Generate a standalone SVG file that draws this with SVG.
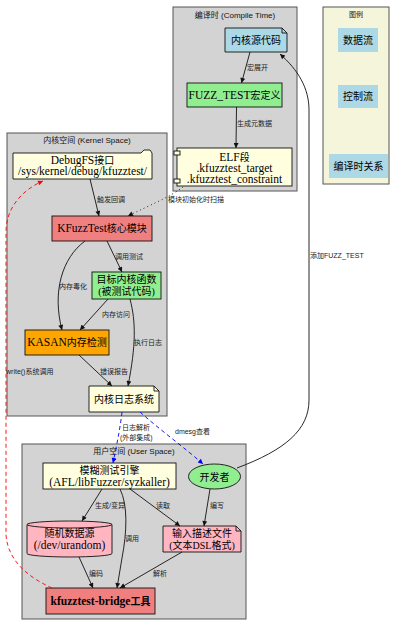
<svg xmlns="http://www.w3.org/2000/svg" width="402" height="627" viewBox="0 0 402 627">
<style>
.bg{fill:#ffffff}
.cl{fill:#d3d3d3;stroke:#555;stroke-width:1}
.lg{fill:#f5f5dc;stroke:#555;stroke-width:1}
.ct{font-family:"Liberation Sans","Noto Sans CJK SC",sans-serif;font-size:8px;fill:#111;text-anchor:middle}
.nd{stroke:#111;stroke-width:0.9}
.nt{font-family:"Liberation Serif","Noto Sans CJK SC",serif;font-size:11.5px;fill:#000;text-anchor:middle}
.c{font-size:10px}
.lt{font-family:"Liberation Sans","Noto Sans CJK SC",sans-serif;font-size:10px;fill:#000;text-anchor:middle}
.el{font-family:"Liberation Sans","Noto Sans CJK SC",sans-serif;font-size:7px;fill:#222}
.e{fill:none;stroke:#111;stroke-width:0.9}
.eb{fill:none;stroke:#0000ff;stroke-width:0.9;stroke-dasharray:4,3}
.er{fill:none;stroke:#ff0000;stroke-width:0.9;stroke-dasharray:4,3}
.ed{fill:none;stroke:#111;stroke-width:0.9;stroke-dasharray:1,3}
.ly{fill:#ffffe0}.lc{fill:#f08080}.gn{fill:#90ee90}.or{fill:#ffa500}.lb{fill:#add8e6}.pk{fill:#ffb6c1}
</style>
<defs>
<marker id="ak" viewBox="0 0 10 10" refX="10" refY="5" markerUnits="userSpaceOnUse" markerWidth="7" markerHeight="5" orient="auto"><path d="M0,0 L10,5 L0,10 Z" fill="#111"/></marker>
<marker id="ab" viewBox="0 0 10 10" refX="10" refY="5" markerUnits="userSpaceOnUse" markerWidth="7" markerHeight="5" orient="auto"><path d="M0,0 L10,5 L0,10 Z" fill="#0000ff"/></marker>
<marker id="ar" viewBox="0 0 10 10" refX="10" refY="5" markerUnits="userSpaceOnUse" markerWidth="7" markerHeight="5" orient="auto"><path d="M0,0 L10,5 L0,10 Z" fill="#ff0000"/></marker>
</defs>
<rect class="bg" x="0" y="0" width="402" height="627"/>

<g id="cluster_compile">
<rect class="cl" x="173" y="7" width="124" height="184"/>
<text class="ct" x="235" y="18">编译时 (Compile Time)</text>
</g>
<g id="cluster_legend">
<rect class="lg" x="323" y="7" width="66" height="177"/>
<text class="ct" x="356" y="17" style="font-size:7px">图例</text>
</g>
<g id="cluster_kernel">
<rect class="cl" x="7" y="133" width="160" height="283"/>
<text class="ct" x="87" y="143">内核空间 (Kernel Space)</text>
</g>
<g id="cluster_user">
<rect class="cl" x="22" y="444" width="224" height="175"/>
<text class="ct" x="134" y="454">用户空间 (User Space)</text>
</g>

<g id="legend_data"><rect class="lb" x="338" y="28" width="40" height="24"/><text class="lt" x="358" y="44">数据流</text></g>
<g id="legend_ctrl"><rect class="lb" x="338" y="85" width="40" height="23"/><text class="lt" x="358" y="100">控制流</text></g>
<g id="legend_compile"><rect class="lb" x="329" y="154" width="59" height="24"/><text class="lt" x="358.5" y="170">编译时关系</text></g>

<g id="src">
<path class="nd lb" d="M225,28 L282,28 L287,33 L287,52 L225,52 Z"/>
<path class="e" d="M282,28 L282,33 L287,33"/>
<text class="nt c" x="256" y="44">内核源代码</text>
</g>
<g id="macro">
<rect class="nd gn" x="187" y="83" width="95" height="24"/>
<text class="nt" x="234.5" y="99">FUZZ_TEST<tspan class="c">宏定义</tspan></text>
</g>
<g id="elf">
<rect class="nd ly" x="177" y="148" width="115" height="38"/>
<rect class="nd ly" x="174" y="151" width="6" height="4"/>
<rect class="nd ly" x="174" y="179" width="6" height="4"/>
<text class="nt" x="234.5" y="161">ELF<tspan class="c">段</tspan></text>
<text class="nt" x="234.5" y="172">.kfuzztest_target</text>
<text class="nt" x="234.5" y="183">.kfuzztest_constraint</text>
</g>

<g id="debugfs">
<path class="nd ly" d="M13,153 L141,153 L144,150 L150,150 L152,153 L152,179 L13,179 Z"/>
<text class="nt" x="82.5" y="164">DebugFS<tspan class="c">接口</tspan></text>
<text class="nt" x="82.5" y="175">/sys/kernel/debug/kfuzztest/</text>
</g>
<g id="core">
<rect class="nd lc" x="52" y="216" width="100" height="25"/>
<text class="nt" x="102" y="232">KFuzzTest<tspan class="c">核心模块</tspan></text>
</g>
<g id="target">
<rect class="nd gn" x="92" y="272" width="69" height="27"/>
<text class="nt c" x="126.5" y="283">目标内核函数</text>
<text class="nt c" x="126.5" y="295">(被测试代码)</text>
</g>
<g id="kasan">
<rect class="nd or" x="25" y="330" width="84" height="25"/>
<text class="nt" x="67" y="346">KASAN<tspan class="c">内存检测</tspan></text>
</g>
<g id="klog">
<path class="nd ly" d="M89,386 L154,386 L159,391 L159,412 L89,412 Z"/>
<path class="e" d="M154,386 L154,391 L159,391"/>
<text class="nt c" x="124" y="403">内核日志系统</text>
</g>

<g id="engine">
<rect class="nd ly" x="43" y="463" width="133" height="26"/>
<text class="nt c" x="109.5" y="474">模糊测试引擎</text>
<text class="nt" x="109.5" y="486">(AFL/libFuzzer/syzkaller)</text>
</g>
<g id="dev">
<ellipse class="nd gn" cx="214.5" cy="476.5" rx="26" ry="12.5"/>
<text class="nt c" x="214.5" y="480.5">开发者</text>
</g>
<g id="rand">
<path class="nd pk" d="M27,524.5 A42.5,3.5 0 0 1 112,524.5 L112,553.5 A42.5,3.5 0 0 1 27,553.5 Z"/>
<path class="e" d="M27,524.5 A42.5,3.5 0 0 0 112,524.5"/>
<text class="nt c" x="69.5" y="537">随机数据源</text>
<text class="nt" x="69.5" y="549">(/dev/urandom)</text>
</g>
<g id="desc">
<path class="nd pk" d="M163,526 L236,526 L241,531 L241,552 L163,552 Z"/>
<path class="e" d="M236,526 L236,531 L241,531"/>
<text class="nt c" x="202" y="537">输入描述文件</text>
<text class="nt c" x="202" y="549">(文本DSL格式)</text>
</g>
<g id="bridge">
<rect class="nd lc" x="46" y="588" width="109" height="26"/>
<text class="nt" x="100.5" y="605" style="font-weight:bold">kfuzztest-bridge<tspan class="c">工具</tspan></text>
</g>

<g id="edges">
<path class="e" marker-end="url(#ak)" d="M250,52 L241.5,83"/>
<text class="el" x="247" y="70">宏展开</text>
<path class="e" marker-end="url(#ak)" d="M236.5,107 L236,148"/>
<text class="el" x="237" y="126">生成元数据</text>
<path class="ed" marker-end="url(#ak)" d="M183,187 C170,197 150,205 128,216"/>
<text class="el" x="168" y="202">模块初始化时扫描</text>
<path class="e" marker-end="url(#ak)" d="M237,468 C285,450 309,430 309,400 L309,110 C309,88 298,70 280,54"/>
<text class="el" x="310" y="258">添加FUZZ_TEST</text>

<path class="e" marker-end="url(#ak)" d="M90,179 L99,216"/>
<text class="el" x="97" y="201.5">触发回调</text>
<path class="e" marker-end="url(#ak)" d="M107,241 L122,272"/>
<text class="el" x="115" y="258.5">调用测试</text>
<path class="e" marker-end="url(#ak)" d="M85,241 C62,258 52,292 62,330"/>
<text class="el" x="59" y="288.5">内存毒化</text>
<path class="e" marker-end="url(#ak)" d="M108,299 L80,330"/>
<text class="el" x="102" y="316.5">内存访问</text>
<path class="e" marker-end="url(#ak)" d="M130,299 C136,322 136,345 128,386"/>
<text class="el" x="134" y="344.5">执行日志</text>
<path class="e" marker-end="url(#ak)" d="M79,355 L112,386"/>
<text class="el" x="100" y="373.5">错误报告</text>

<path class="eb" marker-end="url(#ab)" d="M122,412 C120,430 116,448 113,463"/>
<text class="el" x="122" y="429.5">日志解析</text>
<text class="el" x="120" y="439.5">(外部集成)</text>
<path class="eb" marker-end="url(#ab)" d="M140,412 C160,430 185,448 203,464"/>
<text class="el" x="175" y="433.5">dmesg查看</text>

<path class="e" marker-end="url(#ak)" d="M102,489 L82,521"/>
<text class="el" x="95" y="507.5">生成/变异</text>
<path class="e" marker-end="url(#ak)" d="M120,489 C128,505 127,532 122,558 L117,588"/>
<text class="el" x="125" y="540.5">调用</text>
<path class="e" marker-end="url(#ak)" d="M130,489 L180,526"/>
<text class="el" x="156" y="507.5">读取</text>
<path class="e" marker-end="url(#ak)" d="M210,489 L204,526"/>
<text class="el" x="210" y="507.5">编写</text>
<path class="e" marker-end="url(#ak)" d="M79,557 L93,588"/>
<text class="el" x="89" y="575.5">编码</text>
<path class="e" marker-end="url(#ak)" d="M182,552 L120,588"/>
<text class="el" x="153" y="575.5">解析</text>

<path class="er" marker-end="url(#ar)" d="M52,588 C30,578 8,562 6,535 L6,232 C6,208 22,190 43,181"/>
<text class="el" x="6" y="373.5">write()系统调用</text>
</g>
</svg>
